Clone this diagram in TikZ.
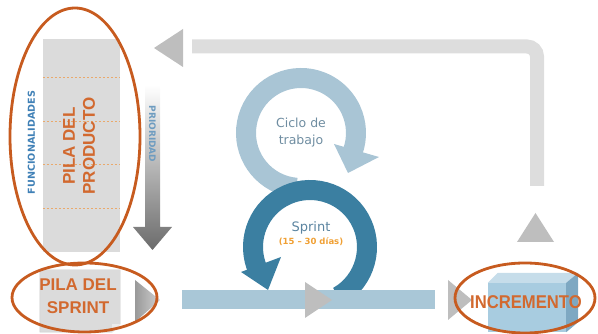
\documentclass[tikz,border=0pt]{standalone}
\usepackage{fontspec}
\setmainfont{Liberation Sans}
\newfontfamily\dejavu{DejaVu Sans}
\usepackage{tikz}
\usetikzlibrary{calc}
\definecolor{ovalorange}{HTML}{C75B1F}
\definecolor{labelorange}{HTML}{D2692F}
\definecolor{dashorange}{HTML}{E9A96C}
\definecolor{featblue}{HTML}{3F80B6}
\definecolor{prioblue}{HTML}{6E9CC0}
\definecolor{cycleblue}{HTML}{A9C5D5}
\definecolor{sprintblue}{HTML}{3B7FA1}
\definecolor{barblue}{HTML}{A9C7D7}
\definecolor{loopgrey}{HTML}{DDDDDD}
\definecolor{tipgrey}{HTML}{BEBEBE}
\definecolor{sheetgrey}{HTML}{DBDBDB}
\definecolor{cycletext}{HTML}{6F8DA1}
\definecolor{sprinttext}{HTML}{5B84A0}
\definecolor{daysorange}{HTML}{F0A034}
\definecolor{boxfront}{HTML}{A8CCE0}
\definecolor{boxtop}{HTML}{C6DDEA}
\definecolor{boxside}{HTML}{7EA8C2}
\tikzset{
  oval/.style={draw=ovalorange, line width=2.8pt},
  tipshape/.style={fill=tipgrey},
  ringline/.style={line width=20pt, line cap=butt},
  biglabel/.style={text=labelorange, font=\bfseries\fontsize{17}{20}\selectfont, align=center, inner sep=0pt},
  sheet/.style={fill=sheetgrey, inner sep=0pt}
}

\begin{document}
\begin{tikzpicture}[x=1pt,y=1pt]
            \useasboundingbox (0,0) rectangle (598,334);
            % coordinates for the nodes
            \coordinate (cyclecenter) at (301,201);
            \coordinate (sprintcenter) at (310,87);
            \coordinate (loopstart) at (537,148);
            \coordinate (loopcorner) at (537,287.5);
            \coordinate (loopend) at (192,287.5);
            \coordinate (barstart) at (182,34.5);
            \coordinate (barend) at (435,34.5);
            
            % return loop from the increment
            \draw[line width=14pt, loopgrey, rounded corners=10pt] (loopstart) -- (loopcorner) -- (loopend);
            \fill[tipshape] (183,305) -- (154,286) -- (183,267) -- cycle;
            \fill[tipshape] (517,92) -- (535.5,121) -- (554,92) -- cycle;
            
            % product backlog
            \node (prodback) at (81.5,188.5) [sheet, minimum width=77pt, minimum height=213pt]{};
            \foreach \y in {257,213,170,126}
              \draw[dashorange, line width=0.7pt, dash pattern=on 2.5pt off 1.5pt] (prodback.west |- 0,\y) -- (prodback.east |- 0,\y);
            \node (prodtext) at (79,188) [biglabel, rotate=90]{PILA DEL\\PRODUCTO};
            \node (features) at (31.5,191.5) [rotate=90, text=featblue, font=\dejavu\bfseries\fontsize{9.6}{10}\selectfont]{FUNCIONALIDADES};
            
            % priority arrow
            \shade[top color=white, bottom color=black!58] (145,249) -- (160,249) -- (160,107) -- (172,107) -- (152.5,84) -- (133,107) -- (145,107) -- cycle;
            \node (priority) at (152.5,200) [rotate=-90, text=prioblue, font=\dejavu\bfseries\fontsize{9}{10}\selectfont]{PRIORIDAD};
            
            % work cycle and sprint
            \draw[ringline, cycleblue] ($(cyclecenter)+(265:55)$) arc[start angle=265, end angle=-20, radius=55];
            \fill[cycleblue] (334,190) -- (379,177) -- (348,161) -- cycle;
            \draw[ringline, sprintblue] ($(sprintcenter)+(-60:57)$) arc[start angle=-60, end angle=204, radius=57];
            \fill[sprintblue] (241,62) -- (281,77) -- (268,44) -- cycle;
            \node (cycletext) at (301,201) [text=cycletext, align=center, font=\dejavu\fontsize{12.5}{17}\selectfont]{Ciclo de\\trabajo};
            \node (sprinttext) at (311,100) [align=center, inner sep=0pt]{{\color{sprinttext}\dejavu\fontsize{13}{15}\selectfont Sprint}\\[1pt]{\color{daysorange}\dejavu\bfseries\fontsize{8.5}{10}\selectfont (15 – 30 días)}};
            
            % sprint bar
            \draw[line width=19pt, barblue] (barstart) -- (barend);
            \fill[tipshape] (305,52) -- (332,34) -- (305,16) -- cycle;
            
            % sprint backlog
            \node (sprintback) at (80,33) [minimum width=80pt, minimum height=62pt, inner sep=0pt]{};
            \fill[sheetgrey, draw=white!80!black, line width=0.4pt] (sprintback.north west) -- (sprintback.north east) -- ($(sprintback.south east)+(0,8)$) -- ($(sprintback.south east)+(-8,0)$) -- (sprintback.south west) -- cycle;
            \fill[white!92!black] ($(sprintback.south east)+(0,8)$) -- ($(sprintback.south east)+(-8,0)$) -- ($(sprintback.south east)+(-8,8)$) -- cycle;
            \node (sprinttitle) at (78,38) [biglabel, font=\bfseries\fontsize{17}{23.5}\selectfont]{PILA DEL\\SPRINT};
            \shade[left color=black!40, right color=black!18] (135,54) -- (160,34) -- (135,12) -- cycle;
            
            % increment
            \fill[tipshape] (448,54) -- (472,34) -- (448,14) -- cycle;
            \node (increment) at (527,26.5) [fill=boxfront, minimum width=78pt, minimum height=49pt, inner sep=0pt]{};
            \fill[boxtop] (increment.north west) -- ++(10,10) -- ($(increment.north east)+(12,10)$) -- (increment.north east) -- cycle;
            \fill[boxside] (increment.north east) -- ++(12,10) -- ($(increment.south east)+(12,10)$) -- (increment.south east) -- cycle;
            \node (inctext) at (526,31.5) [text=labelorange, xscale=0.9, font=\bfseries\fontsize{18.5}{19}\selectfont]{INCREMENTO};
            
            % highlight ovals
            \draw[oval] (75,197.5) ellipse [x radius=65, y radius=128.5];
            \draw[oval] (84.5,36.5) ellipse [x radius=72.5, y radius=34.5];
            \draw[oval] (525,36) ellipse [x radius=70, y radius=35];
            \end{tikzpicture}
\end{document}
